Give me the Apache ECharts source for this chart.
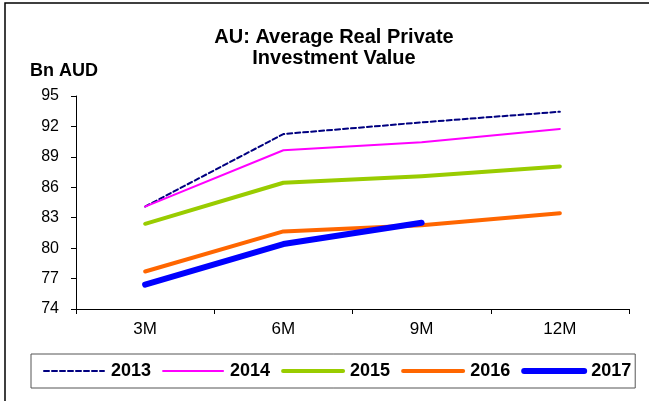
<!DOCTYPE html>
<html>
<head>
<meta charset="utf-8">
<script src="https://cdn.jsdelivr.net/npm/echarts@6/dist/echarts.min.js"></script>
<style>
  html, body { margin: 0; padding: 0; background: #fff; }
  #chart { width: 649px; height: 401px; }
</style>
</head>
<body>
<div id="chart"></div>
<script>
// Horizons after which the average is taken
const horizons = ['3M', '6M', '9M', '12M'];

// Average real private investment value, Bn AUD, by year
const y2013 = [84.1, 91.25, 92.4, 93.45];
const y2014 = [84.1, 89.65, 90.45, 91.75];
const y2015 = [82.4, 86.45, 87.1, 88.05];
const y2016 = [77.7, 81.65, 82.25, 83.45];
const y2017 = [76.4, 80.4, 82.5, null];

// Value-axis ticks
const yTicks = [74, 77, 80, 83, 86, 89, 92, 95];

const FONT = "'Liberation Sans', Arial, sans-serif";

// Per-year line styles, shared by the series and their legend entries
const styles = {
  '2013': { color: '#000080', width: 2, type: [5, 3] },
  '2014': { color: '#ff00ff', width: 2, type: 'solid' },
  '2015': { color: '#99cc00', width: 4, type: 'solid' },
  '2016': { color: '#ff6600', width: 4, type: 'solid' },
  '2017': { color: '#0000ff', width: 6, type: 'solid' }
};

function lineStyleOf(name) {
  const s = styles[name];
  return { color: s.color, width: s.width, type: s.type, cap: 'round', join: 'round' };
}

function line(name, data) {
  return {
    name: name,
    type: 'line',
    data: data,
    symbol: 'none',
    showSymbol: false,
    connectNulls: false,
    lineStyle: lineStyleOf(name),
    itemStyle: { color: styles[name].color }
  };
}

const chart = echarts.init(document.getElementById('chart'), null, { renderer: 'canvas' });

chart.setOption({
  animation: false,
  backgroundColor: '#ffffff',
  title: [
    {
      text: 'AU: Average Real Private\nInvestment Value',
      left: 329,
      top: 22,
      textAlign: 'center',
      textStyle: { fontFamily: FONT, fontSize: 20, fontWeight: 'bold', color: '#000', lineHeight: 21 }
    },
    {
      text: 'Bn AUD',
      left: 25,
      top: 57,
      textStyle: { fontFamily: FONT, fontSize: 18, fontWeight: 'bold', color: '#000' }
    }
  ],
  graphic: [
    {
      type: 'polyline',
      shape: { points: [[5, 420], [5, 3], [660, 3]] },
      style: { fill: null, stroke: '#000', lineWidth: 1.5 },
      silent: true
    }
  ],
  legend: {
    left: 31,
    top: 354,
    padding: [8, 4, 8, 12],
    borderColor: '#555',
    borderWidth: 1,
    itemWidth: 60,
    itemHeight: 14,
    itemGap: 11,
    itemStyle: { opacity: 0 },
    data: Object.keys(styles).map(function (name) {
      return { name: name, lineStyle: lineStyleOf(name) };
    }),
    textStyle: { fontFamily: FONT, fontSize: 18, fontWeight: 'bold', color: '#000', padding: [0, 0, 0, 2] }
  },
  grid: { left: 76, right: 20, top: 96, bottom: 92, containLabel: false },
  xAxis: {
    type: 'category',
    data: horizons,
    boundaryGap: true,
    axisLine: { lineStyle: { color: '#000', width: 1 } },
    axisTick: { show: true, length: 5, lineStyle: { color: '#000' } },
    axisLabel: { color: '#000', fontFamily: FONT, fontSize: 17, margin: 12 },
    splitLine: { show: false }
  },
  yAxis: {
    type: 'value',
    min: 74,
    max: 95,
    axisLine: { show: true, lineStyle: { color: '#000', width: 1 } },
    axisTick: { show: true, length: 5, lineStyle: { color: '#000' }, customValues: yTicks },
    axisLabel: { color: '#000', fontFamily: FONT, fontSize: 16, margin: 17, customValues: yTicks },
    splitLine: { show: false }
  },
  series: [
    line('2013', y2013),
    line('2014', y2014),
    line('2015', y2015),
    line('2016', y2016),
    line('2017', y2017)
  ]
});
</script>
</body>
</html>
